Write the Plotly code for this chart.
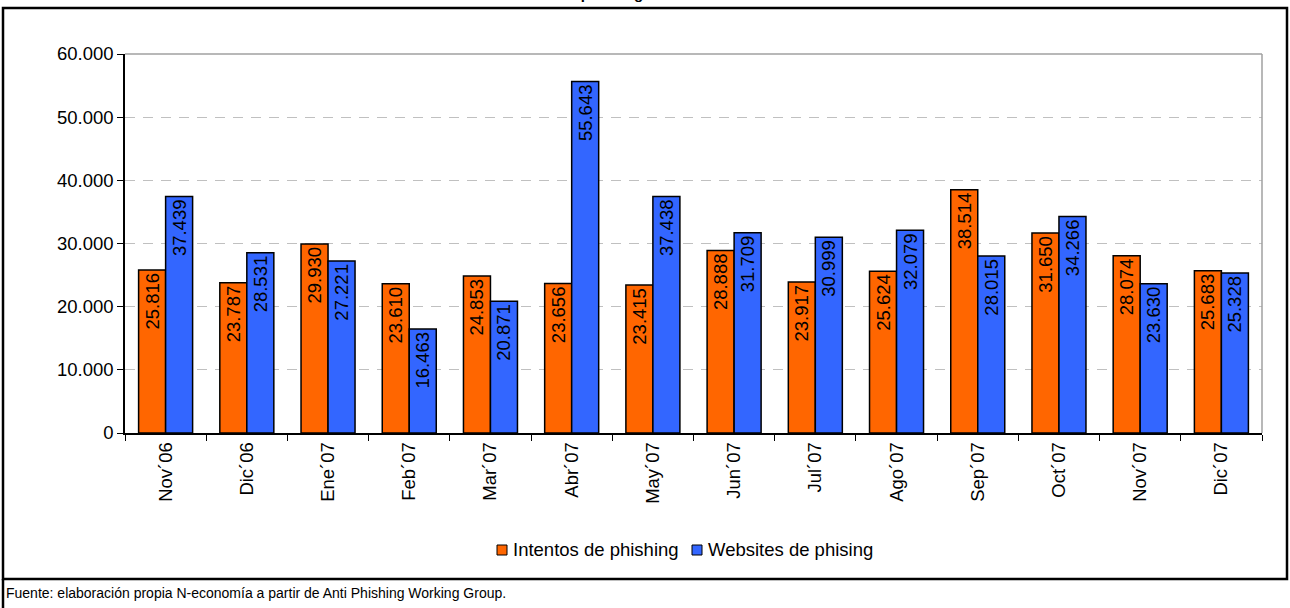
import plotly.graph_objects as go

categories = ["Nov´06", "Dic´06", "Ene´07", "Feb´07", "Mar´07", "Abr´07", "May´07",
              "Jun´07", "Jul´07", "Ago´07", "Sep´07", "Oct´07", "Nov´07", "Dic´07"]
intentos = [25816, 23787, 29930, 23610, 24853, 23656, 23415,
            28888, 23917, 25624, 38514, 31650, 28074, 25683]
websites = [37439, 28531, 27221, 16463, 20871, 55643, 37438,
            31709, 30999, 32079, 28015, 34266, 23630, 25328]
series_names = ["Intentos de phishing", "Websites de phising"]
series_colors = ["#FF6600", "#3366FF"]
y_ticks = [0, 10000, 20000, 30000, 40000, 50000, 60000]

W, H = 1290, 608
L, R, T, B = 125, 28, 54, 175
pw, ph = W - L - R, H - T - B


def px(x):
    return (x - L) / pw


def py(y):
    return (H - B - y) / ph


FONT = "Liberation Sans, Arial, sans-serif"
fig = go.Figure()
for name, vals, col in zip(series_names, [intentos, websites], series_colors):
    fig.add_trace(go.Bar(
        name=name, x=categories, y=vals,
        marker=dict(color=col, line=dict(color="black", width=1.5)),
        texttemplate="%{y:,.0f}", textposition="inside", insidetextanchor="end",
        textangle=-90, textfont=dict(family=FONT, size=18.5, color="black"),
        cliponaxis=False, showlegend=False,
    ))

fig.update_layout(
    width=W, height=H, autosize=False,
    margin=dict(l=L, r=R, t=T, b=B, autoexpand=False),
    paper_bgcolor="white", plot_bgcolor="white",
    separators=",.",
    barmode="group", bargap=0.335, bargroupgap=0,
    uniformtext=dict(minsize=18, mode="show"),
    font=dict(family=FONT, size=18, color="black"),
    showlegend=False,
    xaxis=dict(showline=True, linecolor="black", linewidth=1.5, ticks="outside",
               tickson="boundaries", ticklen=6, tickcolor="black", tickangle=-90,
               tickfont=dict(family=FONT, size=18.5), showgrid=False),
    yaxis=dict(range=[0, 60000], tickvals=y_ticks, tickformat=",.0f",
               showline=True, linecolor="black", linewidth=1.5, ticks="outside",
               ticklen=6, tickcolor="black", tickfont=dict(family=FONT, size=18.5),
               showgrid=True, gridcolor="#c0c0c0", gridwidth=1, griddash="10px,8px",
               zeroline=False),
)

shapes = [
    dict(type="line", xref="paper", yref="paper", x0=0, x1=1, y0=1, y1=1,
         line=dict(color="#a0a0a0", width=1.5)),
    dict(type="line", xref="paper", yref="paper", x0=1, x1=1, y0=0, y1=1,
         line=dict(color="#a0a0a0", width=1.5)),
    dict(type="rect", xref="paper", yref="paper", x0=px(3), x1=px(1287), y0=py(579), y1=py(8),
         line=dict(color="black", width=2.5)),
    dict(type="line", xref="paper", yref="paper", x0=px(3), x1=px(3), y0=py(579), y1=py(612),
         line=dict(color="black", width=2.5)),
]

# legend (squares + labels)
legend_sq_x = [497, 692]
legend_txt_x = [511, 706]
for i, name in enumerate(series_names):
    shapes.append(dict(type="rect", xref="paper", yref="paper",
                       x0=px(legend_sq_x[i]), x1=px(legend_sq_x[i] + 10),
                       y0=py(555), y1=py(545),
                       fillcolor=series_colors[i], line=dict(color="black", width=1)))
    fig.add_annotation(text=name, xref="paper", yref="paper", x=px(legend_txt_x[i]), y=py(549),
                       xanchor="left", yanchor="middle", showarrow=False,
                       font=dict(family=FONT, size=18.5, color="black"))
fig.update_layout(shapes=shapes)

fig.add_annotation(text="<b>Evolución del phishing</b>", xref="paper", yref="paper",
                   x=px(645), y=py(-6), xanchor="right", yanchor="middle", showarrow=False,
                   font=dict(family=FONT, size=15, color="black"))
fig.add_annotation(text="Fuente: elaboración propia N-economía a partir de Anti Phishing Working Group.",
                   xref="paper", yref="paper", x=px(4), y=py(593), xanchor="left", yanchor="middle",
                   showarrow=False, font=dict(family=FONT, size=14, color="black"))

fig.write_html("out.html", config={"displayModeBar": False},
               post_script="document.body.style.margin='0px';")
